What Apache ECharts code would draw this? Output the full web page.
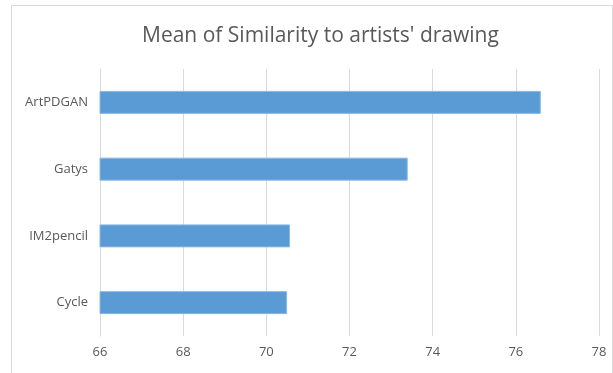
<!DOCTYPE html>
<html>
<head>
<meta charset="utf-8">
<script src="https://cdn.jsdelivr.net/npm/echarts@6/dist/echarts.min.js"></script>
<style>
  html, body { margin: 0; padding: 0; background: #fff; }
  #frame { position: absolute; left: 11px; top: 5px; width: 600px; height: 380px; border: 1px solid #d9d9d9; }
  #chart { position: absolute; left: 0; top: 0; width: 613px; height: 373px; }
</style>
</head>
<body>
<div id="frame"></div>
<div id="chart"></div>
<script>
var categories = ['Cycle', 'IM2pencil', 'Gatys', 'ArtPDGAN'];
var similarity = [70.5, 70.57, 73.4, 76.6];
var xTicks = [66, 68, 70, 72, 74, 76, 78];

var chart = echarts.init(document.getElementById('chart'));
var option = {
    animation: false,
    title: {
        text: 'Mean of Similarity to artists\' drawing',
        left: 137,
        top: 21,
        textStyle: {
            fontFamily: 'Open Sans',
            fontSize: 21,
            fontWeight: 'normal',
            color: '#595959'
        }
    },
    grid: {
        left: 100,
        right: 14,
        top: 69,
        bottom: 37
    },
    xAxis: {
        type: 'value',
        min: xTicks[0],
        max: xTicks[xTicks.length - 1],
        interval: 2,
        axisLine: { show: false },
        axisTick: { show: false },
        axisLabel: {
            color: '#595959',
            fontFamily: 'Open Sans',
            fontSize: 13,
            margin: 10
        },
        splitLine: { lineStyle: { color: '#d9d9d9', width: 1 } }
    },
    yAxis: {
        type: 'category',
        data: categories,
        axisLine: { show: true, lineStyle: { color: '#d9d9d9' } },
        axisTick: { show: false },
        axisLabel: {
            color: '#595959',
            fontFamily: 'Open Sans',
            fontSize: 13,
            margin: 12
        }
    },
    series: [
        {
            name: 'Mean',
            type: 'bar',
            data: similarity,
            barWidth: 23,
            itemStyle: {
                color: '#5b9bd5',
                borderColor: '#8cb9e3',
                borderWidth: 1
            }
        }
    ]
};
chart.setOption(option);
</script>
</body>
</html>
